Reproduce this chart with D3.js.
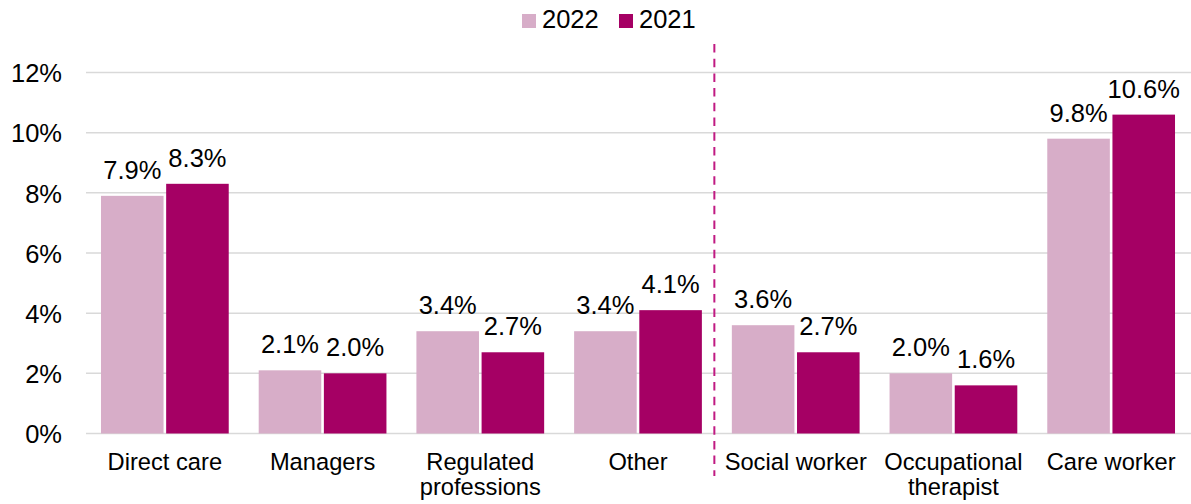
<!DOCTYPE html>
<html>
<head>
<meta charset="utf-8">
<script src="https://cdn.jsdelivr.net/npm/d3@7"></script>
<style>
  html, body { margin: 0; padding: 0; background: #fff; }
  svg { display: block; font-family: "Liberation Sans", Arial, sans-serif; }
</style>
</head>
<body>
<svg id="chart" width="1191" height="504"></svg>
<script>
// Staff turnover rates by job group, 2022 vs 2021
const categories = [["Direct care"], ["Managers"], ["Regulated", "professions"], ["Other"],
                    ["Social worker"], ["Occupational", "therapist"], ["Care worker"]];
const seriesNames = ["2022", "2021"];
const values2022 = [7.9, 2.1, 3.4, 3.4, 3.6, 2.0, 9.8];
const values2021 = [8.3, 2.0, 2.7, 4.1, 2.7, 1.6, 10.6];
const yTicks = [0, 2, 4, 6, 8, 10, 12];
const colors = { "2022": "#d7adc8", "2021": "#a50064" };

const svg = d3.select("#chart");
const margin = { left: 86, right: 1 };
const width = 1191;
const bigFont = 25.5, catFont = 23.7;

const keys = categories.map(c => c.join(" "));
const rows = keys.map((k, i) => ({ key: k, lines: categories[i], "2022": values2022[i], "2021": values2021[i] }));

const x0 = d3.scaleBand().domain(keys).range([margin.left, width - margin.right])
  .paddingInner(0.19).paddingOuter(0.095);
const x1 = d3.scaleBand().domain(seriesNames).range([0, x0.bandwidth()]).paddingInner(0.04);
const y = d3.scaleLinear().domain([0, 12]).range([433.5, 72.5]);

// gridlines
svg.append("g").selectAll("line").data(yTicks).join("line")
  .attr("x1", margin.left).attr("x2", width)
  .attr("y1", d => y(d)).attr("y2", d => y(d))
  .attr("stroke", "#d9d9d9").attr("stroke-width", 1.5);

// y axis labels
const yAxis = d3.axisLeft(y).tickValues(yTicks).tickFormat(d => d + "%").tickSize(0).tickPadding(0);
const ya = svg.append("g").attr("transform", `translate(62,0)`).call(yAxis);
ya.select(".domain").remove();
ya.selectAll("text").attr("font-size", bigFont).attr("fill", "#000").attr("dy", "0.36em")
  .attr("font-family", "Liberation Sans, Arial, sans-serif");

// bars
const groups = svg.append("g").selectAll("g").data(rows).join("g")
  .attr("transform", d => `translate(${x0(d.key)},0)`);
groups.selectAll("rect").data(d => seriesNames.map(s => ({ s, v: d[s] }))).join("rect")
  .attr("x", d => x1(d.s)).attr("width", x1.bandwidth())
  .attr("y", d => y(d.v)).attr("height", d => y(0) - y(d.v))
  .attr("fill", d => colors[d.s]);

// value labels
groups.selectAll("text.val").data(d => seriesNames.map(s => ({ s, v: d[s] }))).join("text")
  .attr("class", "val")
  .attr("x", d => x1(d.s) + x1.bandwidth() / 2)
  .attr("y", d => y(d.v) - 17)
  .attr("text-anchor", "middle").attr("font-size", bigFont).attr("fill", "#000")
  .text(d => d.v.toFixed(1) + "%");

// category labels
const xa = svg.append("g").selectAll("text").data(rows).join("text")
  .attr("x", d => x0(d.key) + x0.bandwidth() / 2)
  .attr("y", 470)
  .attr("text-anchor", "middle").attr("font-size", catFont).attr("fill", "#000");
xa.selectAll("tspan").data(d => d.lines).join("tspan")
  .attr("x", function () { return d3.select(this.parentNode).attr("x"); })
  .attr("dy", (d, i) => i === 0 ? 0 : 24.5)
  .text(d => d);

// dashed divider between job groups and specific roles
const step = x0.step();
const divX = x0(keys[4]) - x0.paddingInner() * step / 2 - 2.5;
svg.append("line")
  .attr("x1", divX).attr("x2", divX).attr("y1", 44).attr("y2", 476)
  .attr("stroke", "#c01a82").attr("stroke-width", 2).attr("stroke-dasharray", "8.5,6.2");

// legend
const legend = svg.append("g").attr("transform", "translate(522,14)");
const li = legend.selectAll("g").data(seriesNames).join("g")
  .attr("transform", (d, i) => `translate(${i * 97},0)`);
li.append("rect").attr("width", 14).attr("height", 14).attr("fill", d => colors[d]);
li.append("text").attr("x", 20).attr("y", 14.3).attr("font-size", bigFont).attr("fill", "#000").text(d => d);
</script>
</body>
</html>
